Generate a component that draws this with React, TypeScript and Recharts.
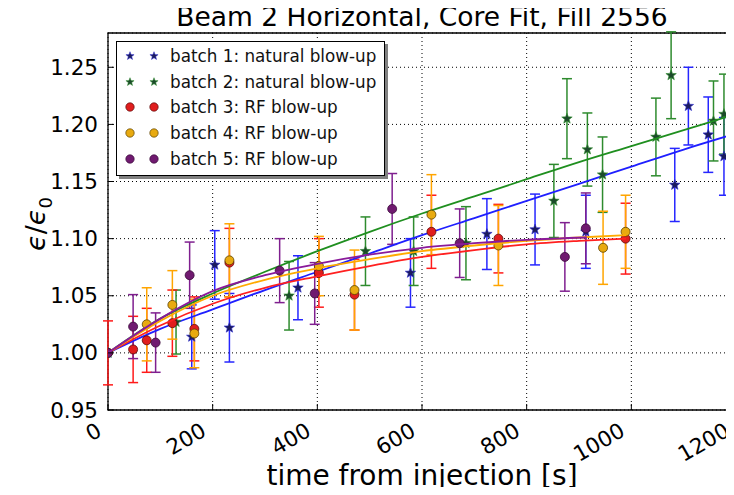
import React from "react";
import {
  ComposedChart,
  Scatter,
  XAxis,
  YAxis,
  CartesianGrid,
  ErrorBar,
  ReferenceArea,
} from "recharts";

const FONT = "DejaVu Sans";

const xTicks = [0, 200, 400, 600, 800, 1000, 1200];
const yTicks = [0.95, 1.0, 1.05, 1.1, 1.15, 1.2, 1.25];

// batch 1: natural blow-up
const b1Time = [0, 160, 204, 232, 363, 578, 724, 816, 913, 1083, 1109, 1147, 1177];
const b1Val = [1.0, 1.014, 1.077, 1.022, 1.057, 1.07, 1.104, 1.108, 1.106, 1.147, 1.216, 1.191, 1.172];
const b1Err = [0, 0.028, 0.03, 0.03, 0.028, 0.03, 0.031, 0.031, 0.032, 0.032, 0.034, 0.033, 0.034];

// batch 2: natural blow-up
const b2Time = [0, 130, 346, 492, 584, 684, 852, 877, 916, 945, 1047, 1076, 1157, 1177];
const b2Val = [1.0, 1.027, 1.05, 1.089, 1.089, 1.096, 1.133, 1.205, 1.178, 1.156, 1.189, 1.243, 1.203, 1.209];
const b2Err = [0, 0.028, 0.03, 0.03, 0.03, 0.032, 0.032, 0.035, 0.032, 0.033, 0.034, 0.038, 0.035, 0.035];

// batch 3: RF blow-up
const b3Time = [0, 48, 74, 123, 165, 232, 403, 471, 618, 746, 989];
const b3Val = [1.0, 1.003, 1.011, 1.026, 1.021, 1.079, 1.07, 1.051, 1.106, 1.1, 1.1];
const b3Err = [0.028, 0.029, 0.028, 0.029, 0.028, 0.03, 0.03, 0.031, 0.032, 0.03, 0.031];

// batch 4: RF blow-up
const b4Time = [0, 74, 123, 165, 232, 403, 471, 618, 746, 946, 989];
const b4Val = [1.0, 1.025, 1.042, 1.017, 1.081, 1.076, 1.055, 1.121, 1.094, 1.092, 1.106];
const b4Err = [0, 0.032, 0.03, 0.03, 0.032, 0.026, 0.035, 0.035, 0.035, 0.032, 0.032];

// batch 5: RF blow-up
const b5Time = [0, 48, 91, 156, 328, 395, 543, 672, 873, 913];
const b5Val = [1.0, 1.023, 1.009, 1.068, 1.072, 1.052, 1.126, 1.096, 1.084, 1.109];
const b5Err = [0, 0.028, 0.026, 0.029, 0.028, 0.027, 0.031, 0.03, 0.03, 0.031];

// fitted curves
const fitTimeNat = [0, 100, 200, 300, 400, 500, 600, 700, 800, 900, 1000, 1100, 1200];
const fit1 = [1.0, 1.021, 1.038, 1.055, 1.071, 1.087, 1.103, 1.118, 1.133, 1.148, 1.163, 1.178, 1.192];
const fit2 = [1.0, 1.03, 1.052, 1.071, 1.089, 1.106, 1.122, 1.137, 1.152, 1.167, 1.181, 1.195, 1.209];
const fitTimeRF = [0, 100, 200, 300, 400, 500, 600, 700, 800, 900, 990];
const fit3 = [1.0, 1.024, 1.043, 1.057, 1.067, 1.076, 1.084, 1.09, 1.095, 1.098, 1.1];
const fit4 = [1.0, 1.028, 1.05, 1.064, 1.074, 1.082, 1.089, 1.094, 1.098, 1.101, 1.103];
const fitTimeB5 = [0, 100, 200, 300, 400, 500, 600, 700, 800, 915];
const fit5 = [1.0, 1.03, 1.054, 1.068, 1.078, 1.086, 1.092, 1.096, 1.099, 1.101];

const pts = (t: number[], v: number[], e?: number[]) =>
  t.map((x, i) => ({ t: x, v: v[i], e: e ? e[i] : 0 }));

const starPath = (cx: number, cy: number, R: number) => {
  let d = "";
  for (let i = 0; i < 10; i++) {
    const a = -Math.PI / 2 + (i * Math.PI) / 5;
    const r = i % 2 ? R * 0.42 : R;
    d += (i ? "L" : "M") + (cx + r * Math.cos(a)).toFixed(2) + "," + (cy + r * Math.sin(a)).toFixed(2);
  }
  return d + "Z";
};

const star = (fill: string, stroke: string) => (p: any) =>
  <path d={starPath(p.cx, p.cy, 5.5)} fill={fill} stroke={stroke} strokeWidth={0.6} />;

const dot = (fill: string, stroke: string) => (p: any) =>
  <circle cx={p.cx} cy={p.cy} r={4.5} fill={fill} stroke={stroke} strokeWidth={0.8} />;

const NoDot = () => <g />;

const XTick = (props: any) => {
  const { x, y, payload } = props;
  const tx = x - 5;
  const ty = y + 25;
  return (
    <g>
      <line x1={x} y1={y} x2={x} y2={y - 6} stroke="#000" />
      <text
        x={tx}
        y={ty}
        textAnchor="end"
        transform={`rotate(-30 ${tx} ${ty})`}
        fontSize={21.5}
        fontFamily={FONT}
        fill="#000"
      >
        {payload.value}
      </text>
    </g>
  );
};

const YTick = (props: any) => {
  const { x, y, payload } = props;
  return (
    <g>
      <line x1={x} y1={y} x2={x + 6} y2={y} stroke="#000" />
      <text x={x - 10} y={y} textAnchor="end" dominantBaseline="central" fontSize={21.5} fontFamily={FONT} fill="#000">
        {payload.value.toFixed(2)}
      </text>
    </g>
  );
};

const legendItems = [
  { label: "batch 1: natural blow-up", kind: "star", fill: "#1b1b5e", stroke: "#2a2ad0" },
  { label: "batch 2: natural blow-up", kind: "star", fill: "#1c4a2a", stroke: "#2f8f2f" },
  { label: "batch 3: RF blow-up", kind: "dot", fill: "#e01e1e", stroke: "#5a0a0a" },
  { label: "batch 4: RF blow-up", kind: "dot", fill: "#e8aa10", stroke: "#5a4000" },
  { label: "batch 5: RF blow-up", kind: "dot", fill: "#701a70", stroke: "#3a0a3a" },
];

const LegendBox = () => (
  <div
    style={{
      position: "absolute",
      left: 116,
      top: 41,
      width: 269,
      height: 135,
      border: "1.2px solid #000",
      background: "#fff",
      boxShadow: "3px 3px 0 #808080",
      fontFamily: FONT,
      fontSize: 16.8,
      color: "#111",
      paddingTop: 1,
      boxSizing: "border-box",
    }}
  >
    {legendItems.map((it) => (
      <div key={it.label} style={{ height: 25.8, display: "flex", alignItems: "center" }}>
        <svg width={50} height={14} style={{ marginLeft: 6 }}>
          {[7, 31].map((cx) =>
            it.kind === "star" ? (
              <path key={cx} d={starPath(cx, 7, 4.3)} fill={it.fill} stroke={it.stroke} strokeWidth={0.5} />
            ) : (
              <circle key={cx} cx={cx} cy={7} r={4.2} fill={it.fill} stroke={it.stroke} strokeWidth={0.7} />
            )
          )}
        </svg>
        <span style={{ marginLeft: -3, whiteSpace: "nowrap" }}>{it.label}</span>
      </div>
    ))}
  </div>
);

export default function App() {
  return (
    <div style={{ position: "relative", width: 734, height: 495, overflow: "hidden", margin: -8, background: "#fff" }}>
      <ComposedChart width={740} height={495} margin={{ top: 33, right: 4, bottom: 0, left: 0 }}>
        <CartesianGrid stroke="#000" strokeDasharray="1 3" />
        <XAxis
          dataKey="t"
          type="number"
          domain={[0, 1200]}
          ticks={xTicks}
          interval={0}
          allowDataOverflow
          height={85}
          tickSize={0}
          tickMargin={0}
          axisLine={false}
          tickLine={false}
          tick={<XTick />}
        />
        <YAxis
          dataKey="v"
          type="number"
          domain={[0.95, 1.28]}
          ticks={yTicks}
          interval={0}
          allowDataOverflow
          width={108}
          tickSize={0}
          tickMargin={0}
          axisLine={false}
          tickLine={false}
          tick={<YTick />}
        />
        <ReferenceArea x1={0} x2={1200} y1={0.95} y2={1.28} fill="none" stroke="#000" strokeWidth={1.3} />

        <Scatter data={pts(b1Time, b1Val, b1Err)} shape={star("#1b1b5e", "#2a2ad0")} isAnimationActive={false}>
          <ErrorBar dataKey="e" direction="y" width={5} stroke="#2626ff" strokeWidth={1.5} />
        </Scatter>
        <Scatter
          data={pts(fitTimeNat, fit1)}
          shape={NoDot}
          line={{ stroke: "#1f1fff", strokeWidth: 1.8 }}
          lineJointType="monotoneX"
          isAnimationActive={false}
        />
        <Scatter data={pts(b2Time, b2Val, b2Err)} shape={star("#1c4a2a", "#2f8f2f")} isAnimationActive={false}>
          <ErrorBar dataKey="e" direction="y" width={5} stroke="#2e8b2e" strokeWidth={1.5} />
        </Scatter>
        <Scatter
          data={pts(fitTimeNat, fit2)}
          shape={NoDot}
          line={{ stroke: "#1f8f1f", strokeWidth: 1.8 }}
          lineJointType="monotoneX"
          isAnimationActive={false}
        />
        <Scatter data={pts(b3Time, b3Val, b3Err)} shape={dot("#e01e1e", "#5a0a0a")} isAnimationActive={false}>
          <ErrorBar dataKey="e" direction="y" width={5} stroke="#ff1a1a" strokeWidth={1.5} />
        </Scatter>
        <Scatter
          data={pts(fitTimeRF, fit3)}
          shape={NoDot}
          line={{ stroke: "#ff2020", strokeWidth: 1.8 }}
          lineJointType="monotoneX"
          isAnimationActive={false}
        />
        <Scatter data={pts(b4Time, b4Val, b4Err)} shape={dot("#e8aa10", "#5a4000")} isAnimationActive={false}>
          <ErrorBar dataKey="e" direction="y" width={5} stroke="#ffa500" strokeWidth={1.5} />
        </Scatter>
        <Scatter
          data={pts(fitTimeRF, fit4)}
          shape={NoDot}
          line={{ stroke: "#ffaa00", strokeWidth: 1.8 }}
          lineJointType="monotoneX"
          isAnimationActive={false}
        />
        <Scatter data={pts(b5Time, b5Val, b5Err)} shape={dot("#701a70", "#3a0a3a")} isAnimationActive={false}>
          <ErrorBar dataKey="e" direction="y" width={5} stroke="#7f1f8f" strokeWidth={1.5} />
        </Scatter>
        <Scatter
          data={pts(fitTimeB5, fit5)}
          shape={NoDot}
          line={{ stroke: "#8a1a9a", strokeWidth: 1.8 }}
          lineJointType="monotoneX"
          isAnimationActive={false}
        />
      </ComposedChart>

      <div
        style={{
          position: "absolute",
          left: 108,
          width: 628,
          top: 1,
          textAlign: "center",
          fontFamily: FONT,
          fontSize: 26.5,
          color: "#000",
          whiteSpace: "nowrap",
        }}
      >
        Beam 2 Horizontal, Core Fit, Fill 2556
      </div>
      <div
        style={{
          position: "absolute",
          left: 108,
          width: 628,
          top: 459,
          textAlign: "center",
          fontFamily: FONT,
          fontSize: 28,
          color: "#000",
          whiteSpace: "nowrap",
        }}
      >
        time from injection [s]
      </div>
      <div
        style={{
          position: "absolute",
          left: 38,
          top: 224,
          transform: "translate(-50%, -50%) rotate(-90deg)",
          fontFamily: FONT,
          fontSize: 27,
          color: "#000",
          whiteSpace: "nowrap",
        }}
      >
        <i>ϵ</i>/<i>ϵ</i>
        <sub style={{ fontSize: 18 }}>0</sub>
      </div>
      <LegendBox />
    </div>
  );
}
